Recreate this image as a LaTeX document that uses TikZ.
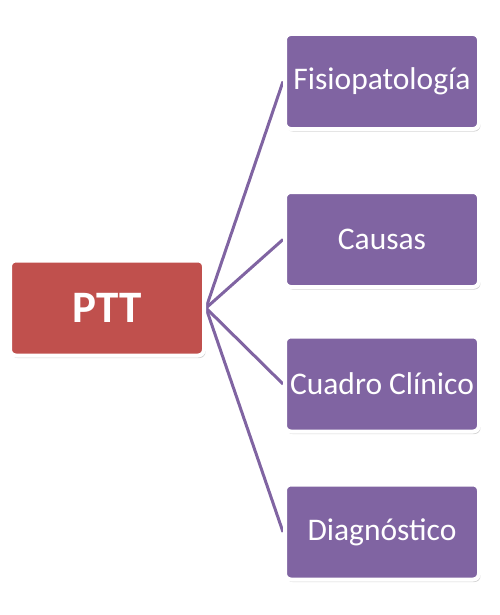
\documentclass[tikz,border=0pt]{standalone}
\usepackage{fontspec}
\setmainfont{Carlito}
\usetikzlibrary{shadows,backgrounds}
\definecolor{boxpurple}{HTML}{8064A2}
\definecolor{boxred}{HTML}{C0504D}
\tikzset{
  basebox/.style={rectangle, rounded corners=6pt, draw=white, line width=4pt,
    minimum width=194pt, minimum height=95pt, inner sep=0pt, text=white,
    drop shadow={opacity=0.35, shadow xshift=1.5pt, shadow yshift=-2.5pt}},
  mainbox/.style={basebox, fill=boxred, font=\fontsize{45}{50}\selectfont\bfseries},
  subbox/.style={basebox, fill=boxpurple, font=\fontsize{31.5}{36}\selectfont},
  link/.style={draw=boxpurple, line width=3pt}
}
\begin{document}
\begin{tikzpicture}[x=1pt,y=-1pt]
\useasboundingbox (0,0) rectangle (500,615);
\node[mainbox] (ptt) at (107,308) {PTT};
\node[subbox] (fis) at (382,81.5) {Fisiopatología};
\node[subbox] (cau) at (382,239.5) {Causas};
\node[subbox] (cua) at (382,384) {Cuadro Clínico};
\node[subbox] (dia) at (382,532) {Diagnóstico};
\begin{scope}[on background layer]
\draw[link] (ptt.east) -- (fis.west);
\draw[link] (ptt.east) -- (cau.west);
\draw[link] (ptt.east) -- (cua.west);
\draw[link] (ptt.east) -- (dia.west);
\end{scope}
\end{tikzpicture}
\end{document}
